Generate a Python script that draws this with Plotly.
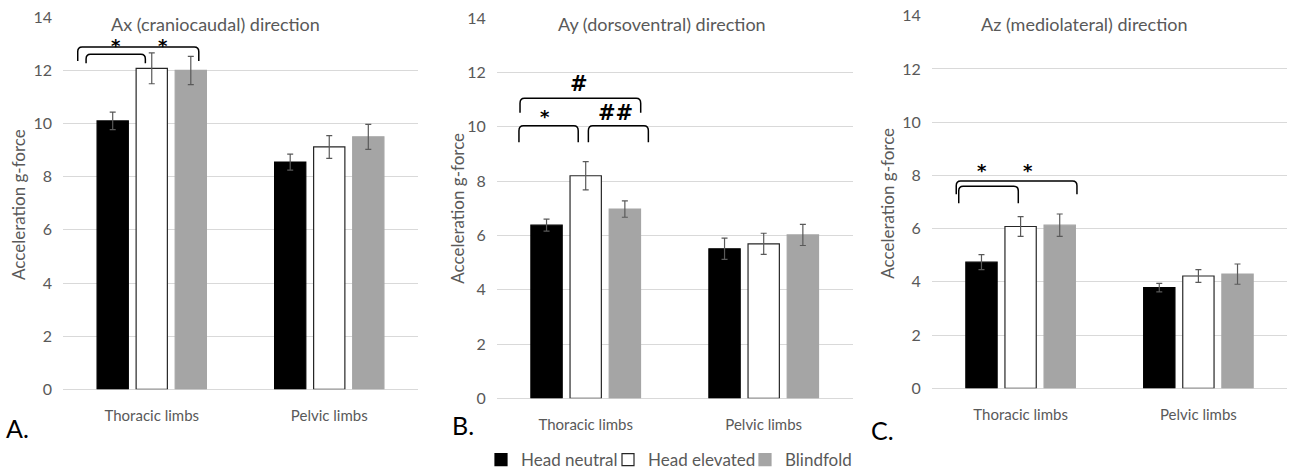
import plotly.graph_objects as go

# ---------------- data ----------------
categories = ["Thoracic limbs", "Pelvic limbs"]
cat_pos = [0, 1]
series_names = ["Head neutral", "Head elevated", "Blindfold"]

ax_neutral = [10.1, 8.55]
ax_elevated = [12.08, 9.12]
ax_blind = [12.0, 9.5]
ax_neutral_err = [0.33, 0.3]
ax_elevated_err = [0.58, 0.43]
ax_blind_err = [0.53, 0.47]

ay_neutral = [6.38, 5.51]
ay_elevated = [8.2, 5.69]
ay_blind = [6.97, 6.02]
ay_neutral_err = [0.22, 0.39]
ay_elevated_err = [0.52, 0.39]
ay_blind_err = [0.3, 0.39]

az_neutral = [4.74, 3.78]
az_elevated = [6.08, 4.22]
az_blind = [6.13, 4.29]
az_neutral_err = [0.28, 0.16]
az_elevated_err = [0.37, 0.24]
az_blind_err = [0.42, 0.38]

panel_titles = ["Ax (craniocaudal) direction", "Ay (dorsoventral) direction", "Az (mediolateral) direction"]
panel_letters = ["A.", "B.", "C."]
y_title = "Acceleration g-force"
y_ticks = [0, 2, 4, 6, 8, 10, 12, 14]

# ---------------- style ----------------
W, H = 1295, 473
FONT = "Lato, 'Open Sans', sans-serif"
GREY_TXT = "#595959"
GRID = "#d9d9d9"
fills = ["#000000", "#ffffff", "#a5a5a5"]
lines = ["#000000", "#262626", "#a5a5a5"]
legend_names = ["legend", "legend2", "legend3"]
legend_left_px = [481, 608, 745]

# panel geometry in pixels (left, right, y of 0, y of 14)
panels = [
    dict(l=63, r=418, y0=389.3, y14=17.3),
    dict(l=496.7, r=852.7, y0=398.3, y14=18.3),
    dict(l=931.7, r=1287.3, y0=388.3, y14=15.7),
]

data_sets = [
    ([ax_neutral, ax_elevated, ax_blind], [ax_neutral_err, ax_elevated_err, ax_blind_err]),
    ([ay_neutral, ay_elevated, ay_blind], [ay_neutral_err, ay_elevated_err, ay_blind_err]),
    ([az_neutral, az_elevated, az_blind], [az_neutral_err, az_elevated_err, az_blind_err]),
]

fig = go.Figure()

for p, (vals, errs) in enumerate(data_sets):
    xa = "x" if p == 0 else f"x{p+1}"
    ya = "y" if p == 0 else f"y{p+1}"
    for s in range(3):
        fig.add_trace(go.Bar(
            x=cat_pos, y=vals[s], name=series_names[s],
            xaxis=xa, yaxis=ya,
            marker=dict(color=fills[s], line=dict(color=lines[s], width=1.2)),
            error_y=dict(type="data", array=errs[s], color="#595959", thickness=1.2, width=3),
            legendgroup=series_names[s], showlegend=(p == 0), legend=legend_names[s],
        ))

layout_axes = {}
for p, g in enumerate(panels):
    sfx = "" if p == 0 else str(p + 1)
    layout_axes[f"xaxis{sfx}"] = dict(
        domain=[g["l"] / W, g["r"] / W], range=[-0.5, 1.5],
        tickvals=cat_pos, ticktext=categories, showgrid=False, zeroline=False,
        showline=False, ticks="", tickfont=dict(family=FONT, size=15, color=GREY_TXT),
        ticklabelstandoff=16, anchor="y" + sfx, fixedrange=True,
    )
    layout_axes[f"yaxis{sfx}"] = dict(
        domain=[1 - g["y0"] / H, 1 - g["y14"] / H], range=[0, 14],
        tickvals=y_ticks, showgrid=True, gridcolor=GRID, gridwidth=1,
        zeroline=True, zerolinecolor=GRID, zerolinewidth=1, showline=False, ticks="",
        tickfont=dict(family=FONT, size=16, color=GREY_TXT), ticklabelstandoff=10,
        anchor="x" + sfx, fixedrange=True,
    )

legends = {}
for i, ln in enumerate(legend_names):
    legends[ln] = dict(orientation="h", x=legend_left_px[i] / W, xanchor="left",
                       y=1 - 460 / H, yanchor="middle",
                       font=dict(family=FONT, size=17, color=GREY_TXT), itemwidth=30,
                       bgcolor="rgba(0,0,0,0)", borderwidth=0)

fig.update_layout(
    width=W, height=H, margin=dict(l=0, r=0, t=0, b=0, autoexpand=False),
    paper_bgcolor="white", plot_bgcolor="white",
    barmode="group", bargap=0.34, bargroupgap=0.2,
    showlegend=True,
    **legends,
    **layout_axes,
)

# titles, letters, y titles
title_x = [215, 662, 1084]
letter_xy = [(17, 428), (463, 425), (882, 430)]
ytitle_x = [18, 456.7, 886.7]
ytitle_y = [205, 208, 203]
annots = []
for p in range(3):
    annots.append(dict(text=panel_titles[p], x=title_x[p] / W, y=1 - 24 / H, xref="paper", yref="paper",
                       showarrow=False, xanchor="center", yanchor="middle",
                       font=dict(family=FONT, size=18, color=GREY_TXT)))
    annots.append(dict(text=panel_letters[p], x=letter_xy[p][0] / W, y=1 - letter_xy[p][1] / H,
                       xref="paper", yref="paper", showarrow=False, xanchor="center", yanchor="middle",
                       font=dict(family=FONT, size=25, color="#000000")))
    annots.append(dict(text=y_title, x=ytitle_x[p] / W, y=1 - ytitle_y[p] / H, xref="paper", yref="paper",
                       showarrow=False, textangle=-90, xanchor="center", yanchor="middle",
                       font=dict(family=FONT, size=17, color=GREY_TXT)))

# significance brackets: (panel, x0, x1, y_top, y_leg)
brackets = [
    (0, -0.417, 0.265, 12.88, 12.36),
    (0, -0.37, -0.036, 12.61, 12.27),
    (1, -0.369, 0.309, 11.05, 10.52),
    (1, -0.375, -0.042, 10.04, 9.43),
    (1, 0.015, 0.352, 10.04, 9.43),
    (2, -0.362, 0.317, 7.79, 7.29),
    (2, -0.348, -0.013, 7.59, 6.95),
]
marks = [
    (0, -0.203, 12.93, "*"), (0, 0.065, 12.93, "*"),
    (1, -0.036, 11.58, "#"), (1, -0.229, 10.39, "*"), (1, 0.17, 10.51, "##"),
    (2, -0.215, 8.18, "*"), (2, 0.043, 8.18, "*"),
]
shapes = []
for p, x0, x1, yt, yl in brackets:
    sfx = "" if p == 0 else str(p + 1)
    rx, ry = 0.025, 0.18
    path = (f"M {x0},{yl} L {x0},{yt - ry} Q {x0},{yt} {x0 + rx},{yt} "
            f"L {x1 - rx},{yt} Q {x1},{yt} {x1},{yt - ry} L {x1},{yl}")
    shapes.append(dict(type="path", path=path, xref="x" + sfx, yref="y" + sfx,
                       line=dict(color="#000000", width=1.5)))
for p, x, y, t in marks:
    sfx = "" if p == 0 else str(p + 1)
    annots.append(dict(text=f"<b>{t}</b>", x=x, y=y, xref="x" + sfx, yref="y" + sfx, showarrow=False,
                       xanchor="center", yanchor="middle",
                       font=dict(family="DejaVu Sans", size=18 if t == "*" else 21, color="#000000")))

fig.update_layout(annotations=annots, shapes=shapes)
fig.write_html("out.html")
